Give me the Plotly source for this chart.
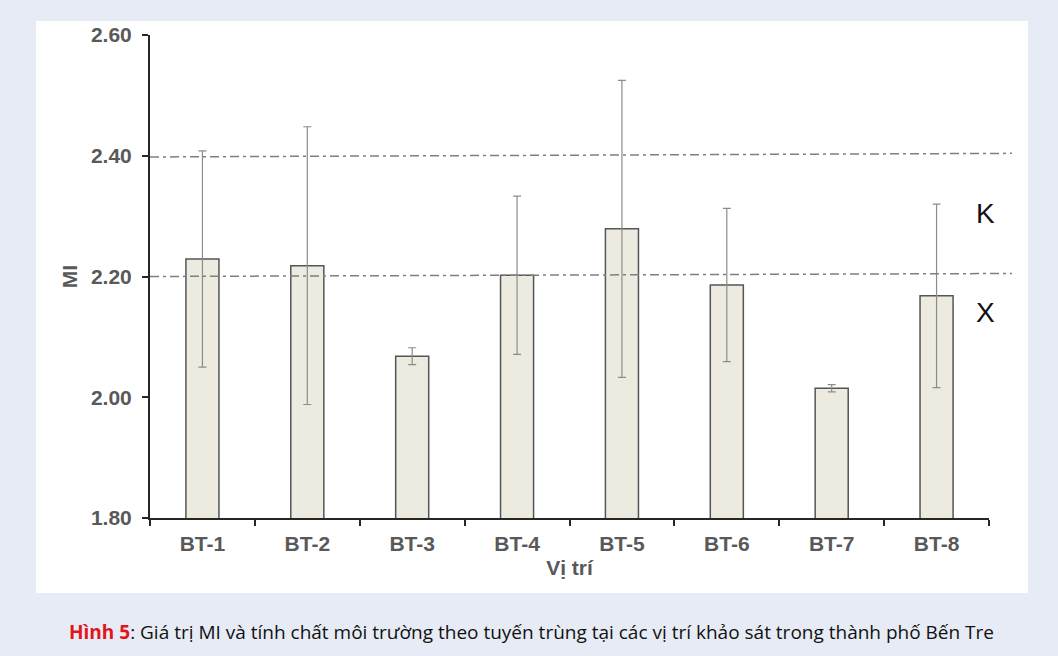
import plotly.graph_objects as go

# Survey sites and mean MI with standard deviation
sites = ["BT-1", "BT-2", "BT-3", "BT-4", "BT-5", "BT-6", "BT-7", "BT-8"]
mi_mean = [2.229, 2.218, 2.068, 2.202, 2.279, 2.186, 2.015, 2.168]
mi_sd = [0.179, 0.230, 0.014, 0.131, 0.246, 0.127, 0.006, 0.152]

# Classification thresholds (left end, right end of each guide line)
threshold_upper = [2.398, 2.404]
threshold_lower = [2.200, 2.205]
zone_labels = ["K", "X"]
zone_label_y = [2.305, 2.141]

y_ticks = [1.80, 2.00, 2.20, 2.40, 2.60]

# Plot-area geometry in pixels
W, H = 1058, 656
L, R, T, B = 150, 989, 35, 518
pw, ph = R - L, B - T


def px_x(px):
    return (px - L) / pw


def px_y(py):
    return (B - py) / ph


fig = go.Figure()

fig.add_trace(go.Bar(
    x=sites,
    y=mi_mean,
    marker=dict(color="#EDEBE0", line=dict(color="#555555", width=1.5)),
    error_y=dict(type="data", array=mi_sd, visible=True,
                 color="#8C8C8C", thickness=1.2, width=4),
    showlegend=False,
    hoverinfo="skip",
))

shapes = [
    # white panel behind the chart
    dict(type="rect", xref="paper", yref="paper",
         x0=px_x(36), x1=px_x(1028), y0=px_y(593), y1=px_y(21),
         fillcolor="white", line=dict(width=0), layer="below"),
]
for th in (threshold_upper, threshold_lower):
    shapes.append(dict(type="line", xref="paper", yref="y",
                       x0=0, x1=px_x(1012), y0=th[0], y1=th[1],
                       line=dict(color="#7F7F7F", width=1.5,
                                 dash="9px,4px,3px,4px"),
                       layer="above"))

annotations = []
for lab, yy in zip(zone_labels, zone_label_y):
    annotations.append(dict(text=lab, xref="paper", yref="y",
                            x=px_x(985), y=yy, showarrow=False,
                            font=dict(family="Liberation Sans, Arial", size=28,
                                      color="#111111"),
                            xanchor="center", yanchor="middle"))

annotations.append(dict(
    text=("<span style='color:#E3151A'><b>Hình 5</b></span>: Giá trị MI và tính chất "
          "môi trường theo tuyến trùng tại các vị trí khảo sát trong thành phố Bến Tre"),
    xref="paper", yref="paper", x=px_x(531), y=px_y(632),
    showarrow=False, xanchor="center", yanchor="middle",
    font=dict(family="Open Sans", size=19, color="#111111"),
))

axis_font = dict(family="Liberation Sans, Arial", size=21, color="#595959")

fig.update_layout(
    width=W, height=H,
    margin=dict(l=L, r=W - R, t=T, b=H - B, pad=0),
    paper_bgcolor="#E7EBF5",
    plot_bgcolor="rgba(0,0,0,0)",
    bargap=0.685,
    shapes=shapes,
    annotations=annotations,
    xaxis=dict(
        type="category",
        showline=True, linecolor="#262626", linewidth=2,
        ticks="outside", tickson="boundaries", ticklen=6,
        tickcolor="#262626", tickwidth=2,
        showgrid=False, zeroline=False,
        tickfont=dict(axis_font, weight="bold"),
        ticklabelstandoff=6,
        title=dict(text="<b>Vị trí</b>", font=axis_font, standoff=6),
    ),
    yaxis=dict(
        range=[1.8, 2.6],
        tickvals=y_ticks,
        ticktext=[f"{v:.2f}" for v in y_ticks],
        showline=True, linecolor="#262626", linewidth=2,
        ticks="outside", ticklen=6, tickcolor="#262626", tickwidth=2,
        showgrid=False, zeroline=False,
        tickfont=dict(axis_font, weight="bold"),
        ticklabelstandoff=6,
        title=dict(text="<b>MI</b>", font=axis_font, standoff=8),
    ),
)

fig.write_html("out.html")
